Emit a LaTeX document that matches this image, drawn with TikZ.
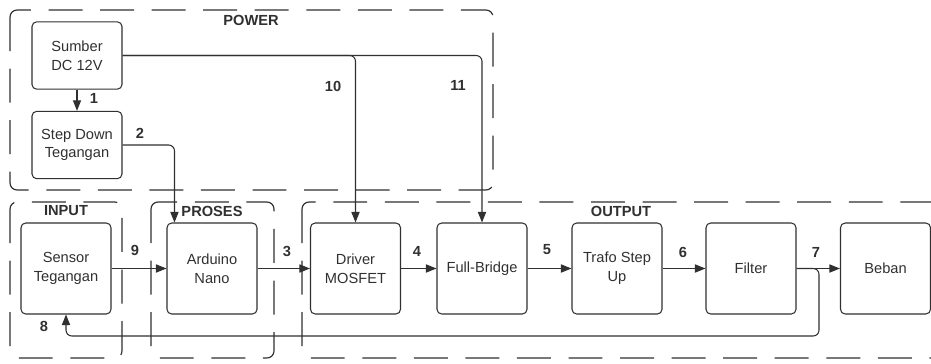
\documentclass[tikz,border=0pt]{standalone}
\usepackage{fontspec}
\setmainfont{Liberation Sans}
\usetikzlibrary{arrows.meta}
\definecolor{ink}{HTML}{303030}

\begin{document}
\begin{tikzpicture}[x=0.03cm, y=-0.03cm, color=ink, line width=0.9pt,
    font=\fontsize{12.5}{16}\selectfont,
    blok/.style={draw, rounded corners=4pt, minimum width=2.7cm, minimum height=2.73cm, align=center, inner sep=1pt},
    blokpwr/.style={blok, minimum height=2.02cm},
    grp/.style={draw, rounded corners=6pt, dash pattern=on 29pt off 15pt, line width=1pt},
    judul/.style={font=\fontsize{12.5}{16}\selectfont\bfseries},
    num/.style={font=\fontsize{12.5}{16}\selectfont\bfseries},
    arr/.style={-{Triangle[length=9pt,width=7pt]}}]
    \useasboundingbox (0,0) rectangle (931,363);
    % group frames
    \draw[grp] (10,10) rectangle (493,190);
    \draw[grp] (10,202) rectangle (122,358);
    \draw[grp] (151,202) rectangle (274,358);
    \draw[grp] (302,202) rectangle (960,358);
    \node[judul] (tpower) at (251,20) {POWER};
    \node[judul] (tinput) at (66,211) {INPUT};
    \node[judul] (tproses) at (212,211) {PROSES};
    \node[judul] (toutput) at (621,211) {OUTPUT};
    % blocks
    \node[blokpwr] (sumber) at (77,55.5) {Sumber\\DC 12V};
    \node[blokpwr] (stepdown) at (77,145) {Step Down\\Tegangan};
    \node[blok] (sensor) at (66,268.5) {Sensor\\Tegangan};
    \node[blok] (arduino) at (212,268.5) {Arduino\\Nano};
    \node[blok] (driver) at (355.5,268.5) {Driver\\MOSFET};
    \node[blok] (bridge) at (482,268.5) {Full-Bridge};
    \node[blok] (trafo) at (617,268.5) {Trafo Step\\Up};
    \node[blok] (filter) at (751,268.5) {Filter};
    \node[blok] (beban) at (885.5,268.5) {Beban};
    % connections
    \draw[arr] (sumber) -- (stepdown);
    \draw[arr, rounded corners=5pt] (stepdown.east) -| ([xshift=0.24cm]arduino.north west);
    \draw[arr, rounded corners=5pt] (sumber.east) -| (driver.north);
    \draw[arr, rounded corners=5pt] (sumber.east) -| (bridge.north);
    \draw[arr] (sensor) -- (arduino);
    \draw[arr] (arduino) -- (driver);
    \draw[arr] (driver) -- (bridge);
    \draw[arr] (bridge) -- (trafo);
    \draw[arr] (trafo) -- (filter);
    \draw[arr] (filter) -- (beban);
    \coordinate (fb1) at (819,268.5);
    \coordinate (fb2) at (819,336);
    \draw[arr, rounded corners=5pt] (filter.east) -- (fb1) -- (fb2) -| (sensor.south);
    % numbers
    \node[num] (n1) at (94,98) {1};
    \node[num] (n2) at (140,133) {2};
    \node[num] (n3) at (287,251) {3};
    \node[num] (n4) at (417,251) {4};
    \node[num] (n5) at (547,250) {5};
    \node[num] (n6) at (683,252) {6};
    \node[num] (n7) at (816,252) {7};
    \node[num] (n8) at (44,326) {8};
    \node[num] (n9) at (135,250) {9};
    \node[num] (n10) at (333,86) {10};
    \node[num] (n11) at (458,85) {11};
\end{tikzpicture}
\end{document}
